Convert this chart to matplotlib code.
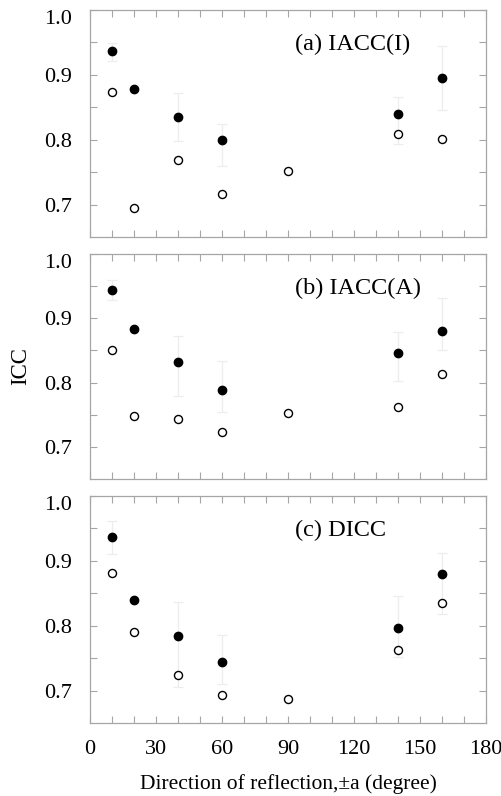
import matplotlib
matplotlib.use('Agg')
import matplotlib.pyplot as plt
import numpy as np

plt.rcParams['font.family'] = ['Liberation Serif', 'DejaVu Serif']

# direction of reflection (degree)
angles_filled = [10, 20, 40, 60, 140, 160]
angles_open = [10, 20, 40, 60, 90, 140, 160]

panel_labels = ['(a) IACC(I)', '(b) IACC(A)', '(c) DICC']

# filled circles
filled_vals = [
    [0.936, 0.878, 0.835, 0.800, 0.839, 0.895],
    [0.944, 0.883, 0.832, 0.789, 0.846, 0.881],
    [0.937, 0.839, 0.784, 0.744, 0.797, 0.879],
]
# error bar upper / lower ends for the filled circles (nan = no bar)
err_top = [
    [0.949, np.nan, 0.872, 0.824, 0.866, 0.945],
    [0.960, np.nan, 0.873, 0.834, 0.879, 0.932],
    [0.961, np.nan, 0.836, 0.786, 0.846, 0.912],
]
err_bottom = [
    [0.922, np.nan, 0.798, 0.759, 0.793, 0.846],
    [0.928, np.nan, 0.779, 0.754, 0.802, 0.850],
    [0.910, np.nan, 0.706, 0.710, 0.751, 0.818],
]
# open circles
open_vals = [
    [0.873, 0.695, 0.769, 0.717, 0.751, 0.809, 0.801],
    [0.850, 0.748, 0.743, 0.723, 0.752, 0.762, 0.814],
    [0.882, 0.790, 0.724, 0.693, 0.687, 0.763, 0.835],
]

x_ticks = [0, 30, 60, 90, 120, 150, 180]
y_ticks = [0.7, 0.8, 0.9, 1.0]
y_ticklabels = ['0.7', '0.8', '0.9', '1.0']

fig = plt.figure(figsize=(5.02, 7.96), dpi=100)
left, width = 0.1793, 0.7888
bottoms = [0.7023, 0.3982, 0.0917]
heights = [0.2852, 0.2827, 0.2852]
spine_col = '#a6a6a6'

for i in range(3):
    ax = fig.add_axes([left, bottoms[i], width, heights[i]])
    y = np.array(filled_vals[i])
    top = np.array(err_top[i])
    bot = np.array(err_bottom[i])
    yerr = np.vstack([y - bot, top - y])
    ax.errorbar(angles_filled, y, yerr=yerr, fmt='none', ecolor='#ededed',
                elinewidth=0.9, capsize=3.5, capthick=0.9, zorder=1)
    ax.plot(angles_open, open_vals[i], 'o', ms=5.8, mfc='white', mec='black',
            mew=1.0, zorder=3)
    ax.plot(angles_filled, filled_vals[i], 'o', ms=6.0, mfc='black', mec='black',
            zorder=3)
    ax.text(93, 0.947, panel_labels[i], fontsize=17.5, va='center', ha='left')

    ax.set_xlim(0, 180)
    ax.set_ylim(0.65, 1.0)
    ax.set_xticks(x_ticks)
    ax.set_xticks(np.arange(0, 181, 10), minor=True)
    ax.set_yticks(y_ticks)
    ax.set_yticklabels(y_ticklabels)
    ax.set_yticks([0.75, 0.85, 0.95], minor=True)
    ax.tick_params(which='both', direction='in', top=True, right=True,
                   length=5, width=0.8, color=spine_col, labelsize=16)
    ax.tick_params(axis='y', pad=13)
    ax.tick_params(axis='x', pad=12)
    # the 1.0 label sits just below the top edge in the original
    ax.get_yticklabels()[-1].set_verticalalignment('top')
    for s in ax.spines.values():
        s.set_color(spine_col)
        s.set_linewidth(0.9)
    if i < 2:
        ax.tick_params(axis='x', labelbottom=False)
    else:
        ax.set_xlabel('Direction of reflection,\u00b1a (degree)', fontsize=15.5,
                      labelpad=11)
    if i == 1:
        ax.set_ylabel('ICC', fontsize=16.5, labelpad=9)

fig.savefig('out.png', dpi=100)
